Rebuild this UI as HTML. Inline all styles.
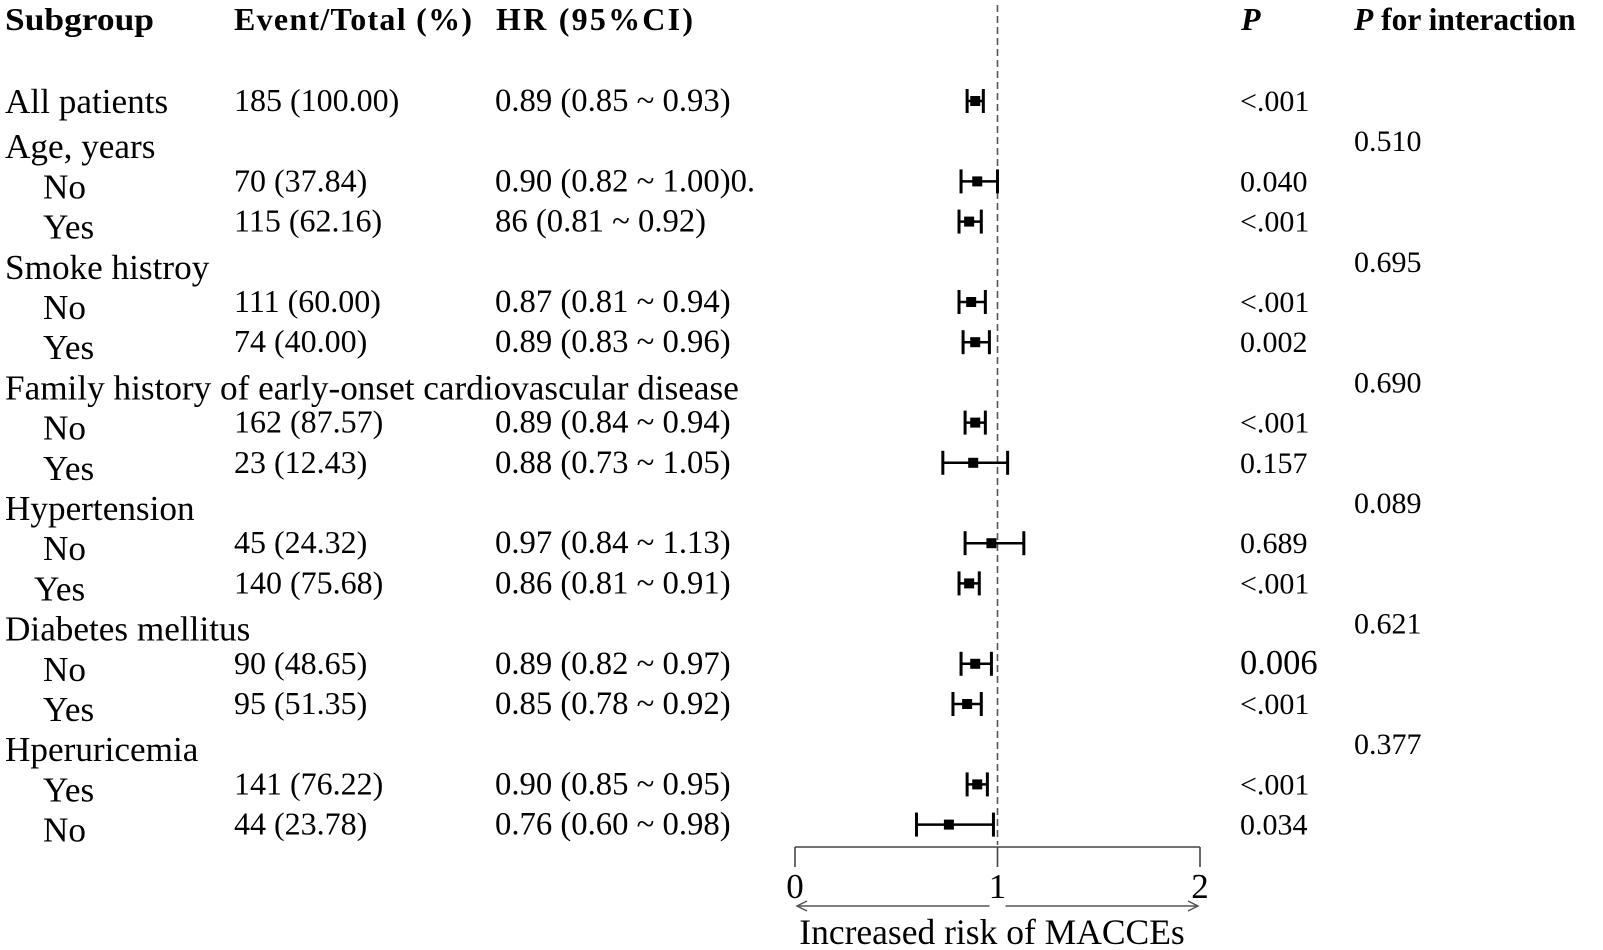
<!DOCTYPE html>
<html><head><meta charset="utf-8"><style>
html,body{margin:0;padding:0;background:#fff;}
svg{display:block;font-family:"Liberation Serif",serif;}
</style></head><body>
<svg id="c" width="1603" height="950" viewBox="0 0 1603 950">
<g font-weight="bold" font-size="32">
<text x="5" y="30" textLength="149" lengthAdjust="spacingAndGlyphs">Subgroup</text>
<text x="234" y="30" textLength="238" lengthAdjust="spacing">Event/Total (%)</text>
<text x="496" y="30" textLength="197" lengthAdjust="spacing">HR (95%CI)</text>
<text x="1241" y="30" font-style="italic">P</text>
<text x="1354" y="30" font-size="31.5"><tspan font-style="italic">P</tspan> for interaction</text>
</g>
<g id="rows"></g>
<g id="marks"></g>
<g id="axis"></g>
</svg>
<script>
const labels = ["All patients","Age, years","No","Yes","Smoke histroy","No","Yes","Family history of early-onset cardiovascular disease","No","Yes","Hypertension","No","Yes","Diabetes mellitus","No","Yes","Hperuricemia","Yes","No"];
const indent = [0,0,1,1,0,1,1,0,1,1,0,1,2,0,1,1,0,1,1];
const events = ["185 (100.00)","","70 (37.84)","115 (62.16)","","111 (60.00)","74 (40.00)","","162 (87.57)","23 (12.43)","","45 (24.32)","140 (75.68)","","90 (48.65)","95 (51.35)","","141 (76.22)","44 (23.78)"];
const hrText = ["0.89 (0.85 ~ 0.93)","","0.90 (0.82 ~ 1.00)0.","86 (0.81 ~ 0.92)","","0.87 (0.81 ~ 0.94)","0.89 (0.83 ~ 0.96)","","0.89 (0.84 ~ 0.94)","0.88 (0.73 ~ 1.05)","","0.97 (0.84 ~ 1.13)","0.86 (0.81 ~ 0.91)","","0.89 (0.82 ~ 0.97)","0.85 (0.78 ~ 0.92)","","0.90 (0.85 ~ 0.95)","0.76 (0.60 ~ 0.98)"];
const hr = [0.89,null,0.90,0.86,null,0.87,0.89,null,0.89,0.88,null,0.97,0.86,null,0.89,0.85,null,0.90,0.76];
const lo = [0.85,null,0.82,0.81,null,0.81,0.83,null,0.84,0.73,null,0.84,0.81,null,0.82,0.78,null,0.85,0.60];
const hi = [0.93,null,1.00,0.92,null,0.94,0.96,null,0.94,1.05,null,1.13,0.91,null,0.97,0.92,null,0.95,0.98];
const pvals = ["<.001","","0.040","<.001","","<.001","0.002","","<.001","0.157","","0.689","<.001","","0.006","<.001","","<.001","0.034"];
const pInter = ["","0.510","","","0.695","","","0.690","","","0.089","","","0.621","","","0.377","",""];
const ticks = [0,1,2];

const NS="http://www.w3.org/2000/svg";
const xS = v => 795 + v*202.5;
const yS = i => 101 + i*40.2;
function mk(tag, attrs, parent){const e=document.createElementNS(NS,tag);for(const k in attrs)e.setAttribute(k,attrs[k]);parent.appendChild(e);return e;}
const rows=document.getElementById('rows'), marks=document.getElementById('marks'), axis=document.getElementById('axis');
const indX=[5,43,34];
labels.forEach((l,i)=>{
  const y=yS(i);
  const t=mk('text',{x:indX[indent[i]],y:(i===0?y+12:y+17),'font-size':35.2},rows);t.textContent=l;
  
  
  if(events[i]){const e=mk('text',{x:234,y:y+10,'font-size':32},rows);e.textContent=events[i];
    
    }
  if(hrText[i]){const h=mk('text',{x:495,y:y+10,'font-size':32.7},rows);h.textContent=hrText[i];
    
    }
  if(pvals[i]){const p=mk('text',{x:1240,y:y+10,'font-size':pvals[i]==='0.006'?34.5:30},rows);p.textContent=pvals[i];
    
    }
  if(pInter[i]){const p=mk('text',{x:1354,y:y+10,'font-size':30},rows);p.textContent=pInter[i];
    
    }
});
const ref=mk('line',{x1:xS(1),x2:xS(1),y1:5,y2:845,stroke:'#555','stroke-width':1.6,'stroke-dasharray':'7 4'},marks);


hr.forEach((v,i)=>{
  if(v===null)return;
  const y=yS(i), g=mk('g',{},marks);
  
  
  mk('line',{x1:xS(lo[i]),x2:xS(hi[i]),y1:y,y2:y,stroke:'#000','stroke-width':2.5},g);
  mk('line',{x1:xS(lo[i]),x2:xS(lo[i]),y1:y-12,y2:y+12,stroke:'#000','stroke-width':3},g);
  mk('line',{x1:xS(hi[i]),x2:xS(hi[i]),y1:y-12,y2:y+12,stroke:'#000','stroke-width':3},g);
  mk('rect',{x:xS(v)-5,y:y-5,width:10,height:10,fill:'#000'},g);
});
const al=mk('line',{x1:xS(0),x2:xS(2),y1:847,y2:847,stroke:'#444','stroke-width':1.6},axis);


ticks.forEach(t=>{
  const tk=mk('line',{x1:xS(t),x2:xS(t),y1:847,y2:867,stroke:'#444','stroke-width':1.6},axis);
  
  
  const tl=mk('text',{x:xS(t),y:898,'font-size':35,'text-anchor':'middle'},axis);tl.textContent=String(t);
  
  
});
const ar=mk('path',{d:`M${xS(0)+2} 906 H${xS(1)-8} M${xS(1)+8} 906 H${xS(2)-2} M${xS(0)+12} 901 L${xS(0)+2} 906 L${xS(0)+12} 911 M${xS(2)-12} 901 L${xS(2)-2} 906 L${xS(2)-12} 911`,stroke:'#555','stroke-width':1.5,fill:'none'},axis);


const at=mk('text',{x:992,y:944,'font-size':35.5,'text-anchor':'middle'},axis);at.textContent='Increased risk of MACCEs';


</script>
</body></html>
